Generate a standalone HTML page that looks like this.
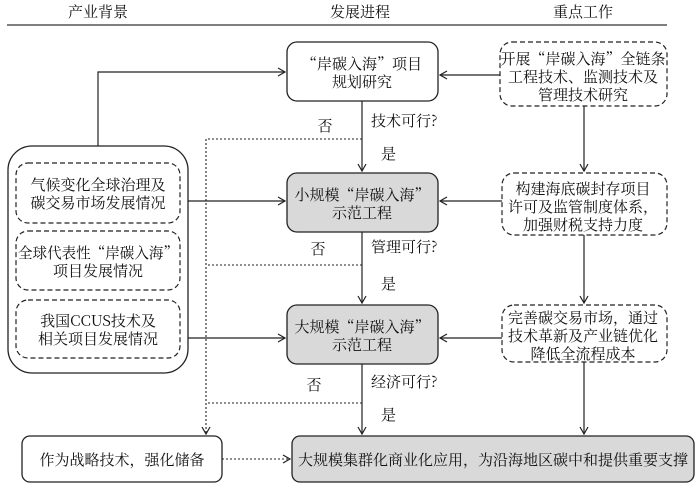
<!DOCTYPE html>
<html><head><meta charset="utf-8"><style>
body{margin:0;background:#fff;}
text{font-family:"Noto Serif CJK SC","Liberation Serif",serif;font-size:15px;fill:#111;}
</style></head><body>
<svg width="700" height="487" viewBox="0 0 700 487" xmlns="http://www.w3.org/2000/svg">
<defs>
<marker id="a" markerWidth="10" markerHeight="10" refX="8" refY="5" orient="auto" markerUnits="userSpaceOnUse">
<path d="M1,1 L8,5 L1,9" fill="none" stroke="#222" stroke-width="1.2"/></marker>
</defs>
<g text-anchor="middle">
<text x="98" y="17">产业背景</text>
<text x="360" y="17">发展进程</text>
<text x="583" y="17">重点工作</text>
</g>
<line x1="7" y1="25" x2="667" y2="25" stroke="#333" stroke-width="1.2"/>

<g fill="none" stroke="#222" stroke-width="1.3">
<rect x="8" y="146" width="180" height="227" rx="24"/>
<rect x="287" y="42" width="151" height="59" rx="10" fill="#fff"/>
<rect x="287" y="173" width="151" height="59" rx="10" fill="#d9d9d9"/>
<rect x="287" y="305" width="151" height="59" rx="10" fill="#d9d9d9"/>
<rect x="22" y="436" width="200" height="46" rx="8"/>
<rect x="292" y="436" width="402" height="46" rx="8" fill="#d9d9d9"/>
</g>
<g fill="none" stroke="#222" stroke-width="1.2" stroke-dasharray="5,3">
<rect x="16" y="163" width="164" height="60" rx="12"/>
<rect x="16" y="231" width="164" height="59" rx="12"/>
<rect x="16" y="300" width="164" height="58" rx="12"/>
<rect x="500" y="42" width="167" height="64" rx="12"/>
<rect x="502" y="173" width="165" height="62" rx="12"/>
<rect x="502" y="305" width="165" height="57" rx="12"/>
</g>

<g fill="none" stroke="#222" stroke-width="1.2">
<path d="M98,146 V72 H285" marker-end="url(#a)"/>
<path d="M188,201 H285" marker-end="url(#a)"/>
<path d="M188,338 H285" marker-end="url(#a)"/>
<path d="M362,101 V171" marker-end="url(#a)"/>
<path d="M362,232 V303" marker-end="url(#a)"/>
<path d="M362,364 V434" marker-end="url(#a)"/>
<path d="M500,75 H440" marker-end="url(#a)"/>
<path d="M502,201 H440" marker-end="url(#a)"/>
<path d="M502,338 H440" marker-end="url(#a)"/>
<path d="M584,106 V171" marker-end="url(#a)"/>
<path d="M584,235 V303" marker-end="url(#a)"/>
<path d="M584,362 V434" marker-end="url(#a)"/>
</g>
<g fill="none" stroke="#222" stroke-width="1.1" stroke-dasharray="2,2">
<path d="M362,139 H206 V434" marker-end="url(#a)"/>
<path d="M362,265 H206"/>
<path d="M362,403 H206"/>
<path d="M222,459 H290" marker-end="url(#a)"/>
</g>

<g text-anchor="middle">
<text x="98" y="190">气候变化全球治理及</text>
<text x="98" y="208">碳交易市场发展情况</text>
<text x="98" y="258" textLength="160" lengthAdjust="spacingAndGlyphs">全球代表性“岸碳入海”</text>
<text x="98" y="276">项目发展情况</text>
<text x="98" y="326">我国CCUS技术及</text>
<text x="98" y="344">相关项目发展情况</text>
<text x="362" y="69">“岸碳入海”项目</text>
<text x="362" y="87">规划研究</text>
<text x="362" y="200">小规模“岸碳入海”</text>
<text x="362" y="218">示范工程</text>
<text x="362" y="332">大规模“岸碳入海”</text>
<text x="362" y="350">示范工程</text>
<text x="583" y="64">开展“岸碳入海”全链条</text>
<text x="583" y="82">工程技术、监测技术及</text>
<text x="583" y="100">管理技术研究</text>
<text x="583" y="194">构建海底碳封存项目</text>
<text x="583" y="212">许可及监管制度体系，</text>
<text x="583" y="230">加强财税支持力度</text>
<text x="583" y="323">完善碳交易市场，通过</text>
<text x="583" y="341">技术革新及产业链优化</text>
<text x="583" y="359">降低全流程成本</text>
<text x="122" y="465">作为战略技术，强化储备</text>
<text x="493" y="465">大规模集群化商业化应用，为沿海地区碳中和提供重要支撑</text>
<text x="325" y="131">否</text>
<text x="318" y="254">否</text>
<text x="314" y="390">否</text>
</g>
<text x="371" y="126">技术可行?</text>
<text x="381" y="159">是</text>
<text x="371" y="252">管理可行?</text>
<text x="381" y="289">是</text>
<text x="371" y="387">经济可行?</text>
<text x="381" y="420">是</text>
</svg>
</body></html>
